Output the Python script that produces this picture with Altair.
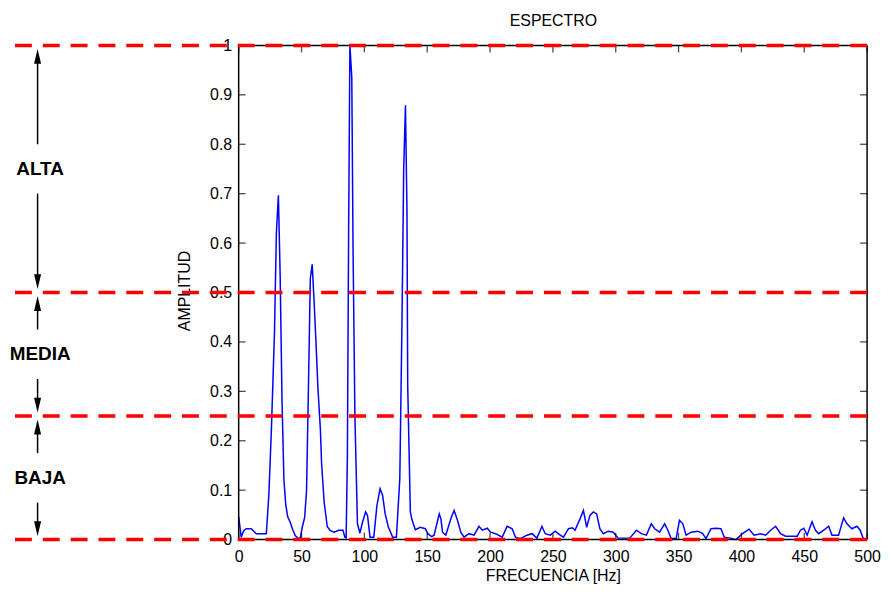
import altair as alt
import pandas as pd

# ---------------- data ----------------
freq = [0.0, 2.0, 4.0, 6.0, 8.0, 10.0, 12.0, 14.0, 16.0, 18.0, 20.0, 22.0, 24.0, 26.0,
        28.5, 30.0, 31.6, 33.0, 34.5, 36.0, 37.5, 39.0, 41.0, 43.0, 45.0, 47.0, 49.0,
        50.5, 52.5, 54.0, 55.5, 57.0, 58.5, 60.0, 61.5, 63.0, 65.0, 66.0, 68.0, 70.5,
        73.0, 76.0, 79.5, 83.0, 84.5, 85.5, 86.5, 87.5, 88.5, 90.0, 91.0, 92.5, 94.5,
        96.5, 98.5, 101.0, 102.5, 104.5, 107.5, 110.0, 112.5, 114.5, 116.5, 119.0,
        122.5, 125.5, 128.2, 128.7, 130.0, 131.3, 132.7, 133.9, 134.5, 136.6, 137.9,
        140.6, 144.5, 148.5, 150.5, 153.5, 155.5, 157.0, 159.6, 160.9, 162.2, 164.8,
        168.8, 171.4, 174.1, 176.7, 179.3, 183.3, 187.3, 191.2, 193.8, 197.8, 200.4,
        204.4, 209.7, 213.6, 217.6, 220.2, 224.1, 229.4, 233.4, 237.3, 241.3, 243.9,
        247.9, 251.8, 255.8, 258.4, 262.4, 265.5, 267.6, 271.6, 274.3, 276.9, 279.5,
        282.2, 284.8, 287.4, 290.1, 294.0, 298.0, 301.9, 307.2, 311.2, 316.5, 320.4,
        324.4, 328.3, 331.0, 334.9, 338.9, 341.5, 344.1, 348.1, 350.7, 353.4, 356.0,
        360.0, 365.3, 369.2, 371.8, 375.8, 379.7, 383.7, 386.3, 391.6, 395.6, 400.9,
        406.1, 410.1, 415.3, 419.3, 423.3, 427.2, 431.2, 435.1, 444.4, 447.0, 449.6,
        452.3, 456.2, 458.9, 461.5, 465.5, 469.4, 472.1, 477.3, 481.3, 484.0, 487.9,
        491.9, 494.5, 497.2, 500.0]
amp = [0.046, 0.005, 0.018, 0.022, 0.022, 0.022, 0.017, 0.012, 0.012, 0.012, 0.012, 0.012,
       0.090, 0.220, 0.420, 0.620, 0.697, 0.535, 0.280, 0.120, 0.070, 0.046, 0.035, 0.020,
       0.008, 0.003, 0.003, 0.024, 0.045, 0.099, 0.307, 0.528, 0.557, 0.483, 0.400, 0.310,
       0.223, 0.153, 0.076, 0.026, 0.018, 0.015, 0.019, 0.019, 0.005, 0.004, 0.170, 0.630,
       1.000, 0.935, 0.589, 0.247, 0.032, 0.013, 0.035, 0.056, 0.049, 0.005, 0.005, 0.069,
       0.103, 0.090, 0.053, 0.026, 0.005, 0.005, 0.123, 0.210, 0.455, 0.750, 0.879, 0.666,
       0.310, 0.056, 0.040, 0.020, 0.025, 0.022, 0.012, 0.006, 0.009, 0.025, 0.052, 0.042,
       0.015, 0.009, 0.042, 0.059, 0.039, 0.015, 0.005, 0.012, 0.009, 0.027, 0.019, 0.023,
       0.015, 0.012, 0.005, 0.027, 0.022, 0.005, 0.002, 0.009, 0.012, 0.003, 0.027, 0.012,
       0.009, 0.017, 0.009, 0.005, 0.022, 0.024, 0.019, 0.042, 0.059, 0.025, 0.049, 0.056,
       0.052, 0.022, 0.012, 0.017, 0.015, 0.003, 0.003, 0.003, 0.019, 0.012, 0.009, 0.032,
       0.022, 0.015, 0.032, 0.019, 0.002, 0.002, 0.039, 0.032, 0.009, 0.015, 0.017, 0.012,
       0.002, 0.022, 0.023, 0.022, 0.005, 0.003, 0.000, 0.012, 0.021, 0.009, 0.012, 0.009,
       0.019, 0.027, 0.012, 0.007, 0.007, 0.019, 0.023, 0.009, 0.036, 0.019, 0.012, 0.019,
       0.027, 0.009, 0.009, 0.044, 0.032, 0.022, 0.027, 0.019, 0.000, 0.000]

x_ticks = [0, 50, 100, 150, 200, 250, 300, 350, 400, 450, 500]
y_ticks = [0, 0.1, 0.2, 0.3, 0.4, 0.5, 0.6, 0.7, 0.8, 0.9, 1]
band_levels = [0, 0.25, 0.5, 1]
band_names = ["BAJA", "MEDIA", "ALTA"]
band_lo = [0, 0.25, 0.5]
band_hi = [0.25, 0.5, 1]

TITLE = "ESPECTRO"
XTITLE = "FRECUENCIA [Hz]"
YTITLE = "AMPLITUD"

# ---------------- layout ----------------
W, H = 857, 497
XMIN, XMAX = -178, 500
FONT = "Liberation Sans"
ANN_X = -160     # arrows column (data units)
TXT_X = -158     # band label column (data units)
GAP = 0.05       # gap between label and arrow shaft
HEAD = 0.02

px_per_unit = W / (XMAX - XMIN)
x0_px = (0 - XMIN) * px_per_unit
xmid_px = ((x_ticks[0] + x_ticks[-1]) / 2 - XMIN) * px_per_unit

xs = alt.Scale(domain=[XMIN, XMAX], nice=False, zero=False)
ys = alt.Scale(domain=[0, 1], nice=False, zero=False)

spec = pd.DataFrame({"f": freq, "a": amp})

# spectrum line (carries the axes)
line = alt.Chart(spec).mark_line(color="#0000FF", strokeWidth=1.5).encode(
    x=alt.X("f:Q", scale=xs, axis=alt.Axis(
        values=x_ticks, title=XTITLE, domain=False, ticks=False, grid=False,
        labelFont=FONT, labelFontSize=16, labelColor="#000000", labelPadding=9,
        labelFlush=False, labelOverlap=False,
        titleFont=FONT, titleFontSize=16, titleFontWeight="normal", titleColor="#000000",
        titleX=xmid_px, titleY=41, titleBaseline="alphabetic", titleAlign="center")),
    y=alt.Y("a:Q", scale=ys, axis=alt.Axis(
        values=y_ticks, format="~g", title=YTITLE, domain=False, ticks=False, grid=False,
        offset=-x0_px, labelFont=FONT, labelFontSize=16, labelColor="#000000",
        labelPadding=7, labelFlush=False, labelOverlap=False,
        titleFont=FONT, titleFontSize=16, titleFontWeight="normal", titleColor="#000000",
        titleX=-54, titleY=H / 2 - 2, titleBaseline="middle", titleAlign="center")),
    order="f:Q",
)

# axis box
frame_df = pd.DataFrame({
    "x": [x_ticks[0], x_ticks[0], x_ticks[0], x_ticks[-1]],
    "x2": [x_ticks[-1], x_ticks[-1], x_ticks[0], x_ticks[-1]],
    "y": [y_ticks[0], y_ticks[-1], y_ticks[0], y_ticks[0]],
    "y2": [y_ticks[0], y_ticks[-1], y_ticks[-1], y_ticks[-1]],
})
frame = alt.Chart(frame_df).mark_rule(color="#000000", strokeWidth=1.5).encode(
    x=alt.X("x:Q", scale=xs, axis=None), x2="x2:Q",
    y=alt.Y("y:Q", scale=ys, axis=None), y2="y2:Q")

# inward ticks
xt_df = pd.DataFrame({"x": x_ticks, "y0": [y_ticks[0]] * len(x_ticks),
                      "y1": [y_ticks[-1]] * len(x_ticks)})
yt_df = pd.DataFrame({"y": y_ticks, "x0": [x_ticks[0]] * len(y_ticks),
                      "x1": [x_ticks[-1]] * len(y_ticks)})
tick_style = dict(color="#000000", thickness=1.3, size=7)
xt_bot = alt.Chart(xt_df).mark_tick(orient="vertical", yOffset=-3.5, **tick_style).encode(
    x=alt.X("x:Q", scale=xs, axis=None), y=alt.Y("y0:Q", scale=ys, axis=None))
xt_top = alt.Chart(xt_df).mark_tick(orient="vertical", yOffset=3.5, **tick_style).encode(
    x=alt.X("x:Q", scale=xs, axis=None), y=alt.Y("y1:Q", scale=ys, axis=None))
yt_left = alt.Chart(yt_df).mark_tick(orient="horizontal", xOffset=3.5, **tick_style).encode(
    y=alt.Y("y:Q", scale=ys, axis=None), x=alt.X("x0:Q", scale=xs, axis=None))
yt_right = alt.Chart(yt_df).mark_tick(orient="horizontal", xOffset=-3.5, **tick_style).encode(
    y=alt.Y("y:Q", scale=ys, axis=None), x=alt.X("x1:Q", scale=xs, axis=None))

# red dashed band limits
red_df = pd.DataFrame({"y": band_levels, "x": [XMIN] * len(band_levels),
                       "x2": [x_ticks[-1]] * len(band_levels)})
red = alt.Chart(red_df).mark_rule(color="#FF0000", strokeWidth=3.5,
                                  strokeDash=[17, 11]).encode(
    x=alt.X("x:Q", scale=xs, axis=None), x2="x2:Q",
    y=alt.Y("y:Q", scale=ys, axis=None))

# arrows and labels
mids = [(lo + hi) / 2 for lo, hi in zip(band_lo, band_hi)]
shaft_df = pd.DataFrame({
    "x": [ANN_X] * (2 * len(mids)),
    "y": [m + GAP for m in mids] + [m - GAP for m in mids],
    "y2": [hi - HEAD for hi in band_hi] + [lo + HEAD for lo in band_lo],
})
shafts = alt.Chart(shaft_df).mark_rule(color="#000000", strokeWidth=1.5).encode(
    x=alt.X("x:Q", scale=xs, axis=None),
    y=alt.Y("y:Q", scale=ys, axis=None), y2="y2:Q")

up_df = pd.DataFrame({"x": [ANN_X] * len(band_hi), "y": band_hi})
dn_df = pd.DataFrame({"x": [ANN_X] * len(band_lo), "y": band_lo})
head_up = alt.Chart(up_df).mark_point(
    shape="M0,-1L-0.47,1L0.47,1Z", filled=True, color="#000000", opacity=1,
    size=225, yOffset=11).encode(
    x=alt.X("x:Q", scale=xs, axis=None), y=alt.Y("y:Q", scale=ys, axis=None))
head_dn = alt.Chart(dn_df).mark_point(
    shape="M0,1L-0.47,-1L0.47,-1Z", filled=True, color="#000000", opacity=1,
    size=225, yOffset=-11).encode(
    x=alt.X("x:Q", scale=xs, axis=None), y=alt.Y("y:Q", scale=ys, axis=None))

lab_df = pd.DataFrame({"x": [TXT_X] * len(mids), "y": mids, "t": band_names})
labels = alt.Chart(lab_df).mark_text(
    font=FONT, fontSize=19, fontWeight="bold", color="#000000",
    align="center", baseline="middle").encode(
    x=alt.X("x:Q", scale=xs, axis=None), y=alt.Y("y:Q", scale=ys, axis=None),
    text="t:N")

chart = alt.layer(
    line, frame, xt_bot, xt_top, yt_left, yt_right, red,
    shafts, head_up, head_dn, labels,
).resolve_axis(x="independent", y="independent").properties(
    width=W, height=H,
    title=alt.TitleParams(TITLE, font=FONT, fontSize=16, fontWeight="normal",
                          color="#000000", anchor="middle", dx=113, dy=-5),
    padding={"left": 7, "top": 36, "right": 16, "bottom": 43},
    autosize=alt.AutoSizeParams(type="none"),
).configure_view(stroke=None)

chart.save("out.html", embed_options={"renderer": "svg", "actions": False})
